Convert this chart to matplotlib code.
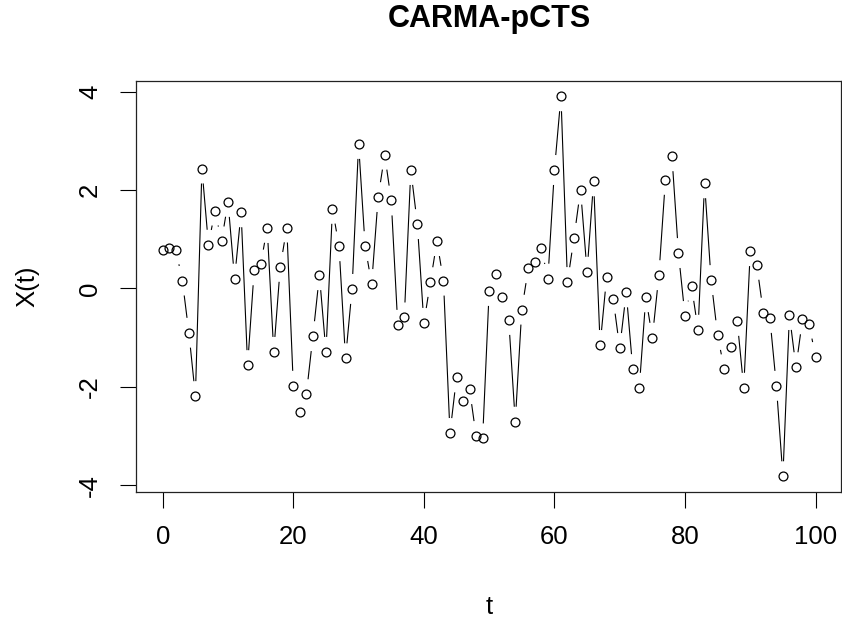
import numpy as np
import matplotlib
matplotlib.use("Agg")
import matplotlib.pyplot as plt
from matplotlib.collections import LineCollection

plt.rcParams['font.family'] = ['Liberation Sans', 'DejaVu Sans']
plt.rcParams['axes.unicode_minus'] = False

# values, t = 0..100
t = np.arange(101)
x = [0.79, 0.82, 0.79, 0.16, -0.90, -2.19, 2.44, 0.89, 1.58, 0.96,
     1.76, 0.20, 1.55, -1.56, 0.37, 0.49, 1.23, -1.29, 0.44, 1.24,
     -1.98, -2.51, -2.15, -0.97, 0.27, -1.29, 1.62, 0.86, -1.42, -0.01,
     2.94, 0.86, 0.09, 1.86, 2.72, 1.79, -0.74, -0.59, 2.41, 1.31,
     -0.70, 0.13, 0.96, 0.16, -2.94, -1.81, -2.29, -2.05, -3.00, -3.05,
     -0.05, 0.30, -0.18, -0.64, -2.71, -0.43, 0.41, 0.54, 0.82, 0.20,
     2.41, 3.91, 0.13, 1.03, 2.01, 0.34, 2.18, -1.15, 0.24, -0.21,
     -1.21, -0.08, -1.64, -2.02, -0.18, -1.00, 0.27, 2.21, 2.69, 0.72,
     -0.56, 0.05, -0.84, 2.14, 0.17, -0.95, -1.64, -1.19, -0.66, -2.02,
     0.76, 0.48, -0.49, -0.60, -1.98, -3.82, -0.54, -1.60, -0.63, -0.72,
     -1.39]

fig = plt.figure(figsize=(8.42, 6.26), dpi=100)
ax = fig.add_axes([136/842, 1 - 492/626, 705/842, 411/626])
ax.set_xlim(-4.1, 103.9)
ax.set_ylim(-4.14, 4.22)

# open circles
ax.plot(t, x, 'o', mfc='none', mec='black', ms=6.4, mew=0.9)

# R type="b": segments stop short of the points
pts = ax.transData.transform(np.column_stack([t, x]))
gap = 15.0
segs = []
for i in range(len(pts) - 1):
    p0, p1 = pts[i], pts[i + 1]
    d = p1 - p0
    L = np.hypot(d[0], d[1])
    if L > 2 * gap:
        u = d / L
        a = ax.transData.inverted().transform(p0 + u * gap)
        b = ax.transData.inverted().transform(p1 - u * gap)
        segs.append([a, b])
ax.add_collection(LineCollection(segs, colors='black', linewidths=0.8))

ax.set_xticks([0, 20, 40, 60, 80, 100])
ax.set_yticks([-4, -2, 0, 2, 4])
ax.tick_params(axis='both', direction='out', length=11.5, width=0.8,
               labelsize=18.5, colors='black')
ax.tick_params(axis='x', pad=12)
ax.tick_params(axis='y', pad=13)
for lab in ax.get_yticklabels():
    lab.set_rotation(90)
    lab.set_va('center')

for s in ax.spines.values():
    s.set_linewidth(0.9)
    s.set_color('#222222')

ax.set_xlabel('t', fontsize=18.5)
ax.xaxis.set_label_coords(0.5 - (136 + 352.5 - 489) / 705, -(607 - 492) / 411)
ax.xaxis.label.set_va('center')
ax.set_ylabel('X(t)', fontsize=18.5)
ax.yaxis.set_label_coords(-(136 - 27) / 705, (492 - 286) / 411)
ax.yaxis.label.set_va('center')

fig.text(489 / 842, 1 - 19 / 626, 'CARMA-pCTS', ha='center', va='center',
         fontsize=22, fontweight='bold')

fig.savefig('out.png', dpi=100)
